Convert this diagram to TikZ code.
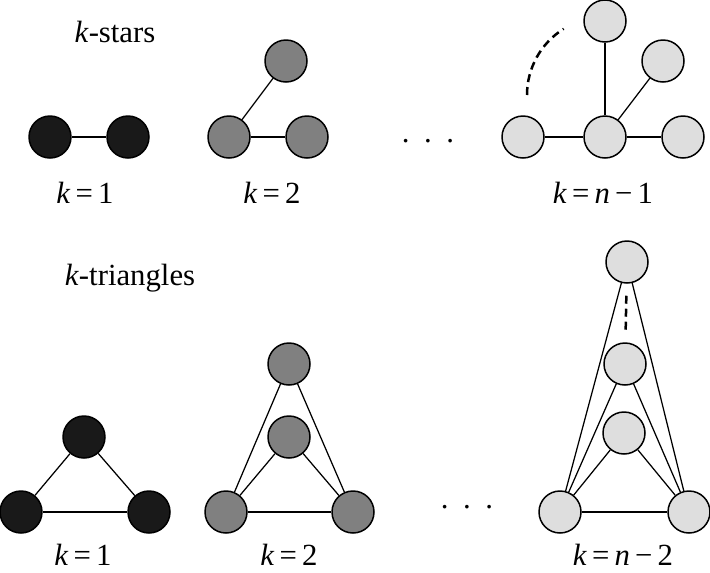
\documentclass[tikz,border=0pt]{standalone}
\usepackage{fontspec}
\setmainfont{Liberation Serif}
\usepackage{tikz}

\begin{document}
\begin{tikzpicture}[x=0.02cm, y=-0.02cm,
        vtx/.style={circle, draw=black, line width=0.3mm, minimum size=0.84cm, inner sep=0pt},
        blk/.style={vtx, fill=black!90},
        mid/.style={vtx, fill=black!50},
        lgt/.style={vtx, fill=black!13},
        edge/.style={line width=0.25mm},
        dots/.style={line width=0.5mm, dash pattern=on 0.16cm off 0.1cm},
        lbl/.style={anchor=base, font=\rmfamily\fontsize{17.5}{20}\selectfont}]
        \useasboundingbox (0,0) rectangle (710,572);

        % titles
        \node[lbl] (stars) at (115,42) {\textit{k}-stars};
        \node[lbl] (tris) at (130,285) {\textit{k}-triangles};

        % stars, k=1
        \node[blk] (s1a) at (50,137) {};
        \node[blk] (s1b) at (128,137) {};
        \draw[edge] (s1a) -- (s1b);
        \node[lbl] (s1lab) at (85,203) {\textit{k}\,=\,1};

        % stars, k=2
        \node[mid] (s2a) at (229,137) {};
        \node[mid] (s2b) at (307,137) {};
        \node[mid] (s2c) at (286,61) {};
        \draw[edge] (s2a) -- (s2b);
        \draw[edge] (s2a) -- (s2c);
        \node[lbl] (s2lab) at (272,203) {\textit{k}\,=\,2};

        \node[lbl] (sdots) at (428,142) {.\hspace{0.29cm}.\hspace{0.29cm}.};

        % stars, k=n-1
        \node[lgt] (snl) at (523,137) {};
        \node[lgt] (snc) at (605,137) {};
        \node[lgt] (snr) at (683,137) {};
        \node[lgt] (snt) at (605,21) {};
        \node[lgt] (snu) at (663,61) {};
        \foreach \v in {snl,snr,snt,snu}
            \draw[edge] (snc) -- (\v);
        \coordinate (arcstart) at (527,95);
        \draw[dots] (arcstart) arc[start angle=180, end angle=238, radius=78];
        \node[lbl] (snlab) at (603,203) {\textit{k}\,=\,\textit{n}\,−\,1};

        % triangles, k=1
        \node[blk] (t1a) at (21,512) {};
        \node[blk] (t1b) at (149,512) {};
        \node[blk] (t1c) at (84,437) {};
        \draw[edge] (t1a) -- (t1b);
        \draw[edge] (t1a) -- (t1c);
        \draw[edge] (t1b) -- (t1c);
        \node[lbl] (t1lab) at (83,565) {\textit{k}\,=\,1};

        % triangles, k=2
        \node[mid] (t2a) at (226,512) {};
        \node[mid] (t2b) at (353,512) {};
        \node[mid] (t2m) at (289,437) {};
        \node[mid] (t2t) at (289,364) {};
        \draw[edge] (t2a) -- (t2b);
        \foreach \v in {t2m,t2t} {
            \draw[edge] (t2a) -- (\v);
            \draw[edge] (t2b) -- (\v);
        }
        \node[lbl] (t2lab) at (289,565) {\textit{k}\,=\,2};

        \node[lbl] (tdots) at (467,508) {.\hspace{0.29cm}.\hspace{0.29cm}.};

        % triangles, k=n-2
        \node[lgt] (tnl) at (560,512) {};
        \node[lgt] (tnr) at (689,512) {};
        \node[lgt] (tn1) at (624,433) {};
        \node[lgt] (tn2) at (625,364) {};
        \node[lgt] (tnt) at (627,262) {};
        \draw[edge] (tnl) -- (tnr);
        \foreach \v in {tn1,tn2,tnt} {
            \draw[edge] (tnl) -- (\v);
            \draw[edge] (tnr) -- (\v);
        }
        \draw[dots, shorten <=0.24cm, shorten >=0.22cm] (tnt) -- (tn2);
        \node[lbl] (tnlab) at (623,565) {\textit{k}\,=\,\textit{n}\,−\,2};
    \end{tikzpicture}
\end{document}
